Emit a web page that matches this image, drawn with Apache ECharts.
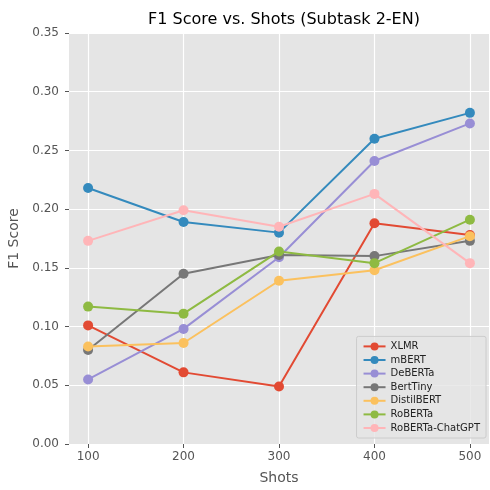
<!DOCTYPE html>
<html>
<head>
<meta charset="utf-8">
<script src="https://cdn.jsdelivr.net/npm/echarts@6/dist/echarts.min.js"></script>
<style>
html, body { margin: 0; padding: 0; background: #fff; }
#chart { width: 490px; height: 490px; }
</style>
</head>
<body>
<div id="chart"></div>
<script>
var shots = [100, 200, 300, 400, 500];
var names = ['XLMR', 'mBERT', 'DeBERTa', 'BertTiny', 'DistilBERT', 'RoBERTa', 'RoBERTa-ChatGPT'];
var xlmr = [0.101, 0.061, 0.049, 0.188, 0.178];
var mbert = [0.218, 0.189, 0.180, 0.260, 0.282];
var deberta = [0.055, 0.098, 0.159, 0.241, 0.273];
var bertTiny = [0.080, 0.145, 0.161, 0.160, 0.173];
var distilBert = [0.083, 0.086, 0.139, 0.148, 0.177];
var roberta = [0.117, 0.111, 0.164, 0.154, 0.191];
var robertaChatGPT = [0.173, 0.199, 0.185, 0.213, 0.154];
var colors = ['#E24A33', '#348ABD', '#988ED5', '#777777', '#FBC15E', '#8EBA42', '#FFB5B8'];

(function () {
	var myChart = echarts.init(document.getElementById('chart'));
	var allValues = [xlmr, mbert, deberta, bertTiny, distilBert, roberta, robertaChatGPT];
	var series = [];
	for (var i = 0; i < names.length; i++) {
		var pts = [];
		for (var j = 0; j < shots.length; j++) {
			pts.push([shots[j], allValues[i][j]]);
		}
		series.push({
			name: names[i],
			type: 'line',
			data: pts,
			symbol: 'circle',
			symbolSize: 10,
			lineStyle: { width: 2 },
			itemStyle: { color: colors[i] },
			z: 2 + i
		});
	}
	var option = {
		animation: false,
		color: colors,
		title: {
			text: 'F1 Score vs. Shots (Subtask 2-EN)',
			left: 279,
			textAlign: 'center',
			top: 7,
			textStyle: { color: '#000', fontSize: 16, fontWeight: 'normal', fontFamily: 'DejaVu Sans' }
		},
		legend: {
			orient: 'vertical',
			right: 4,
			bottom: 52,
			itemWidth: 22,
			itemHeight: 10,
			itemGap: 3.6,
			padding: [5, 6, 5, 6],
			backgroundColor: 'rgba(229,229,229,0.8)',
			borderColor: '#cccccc',
			borderWidth: 1,
			borderRadius: 2,
			textStyle: { fontSize: 10, color: '#222', fontFamily: 'DejaVu Sans' },
			data: names
		},
		grid: {
			left: 69,
			right: 1,
			top: 33,
			bottom: 46,
			outerBoundsMode: 'none',
			containLabel: false,
			show: true,
			backgroundColor: '#E5E5E5',
			borderWidth: 0
		},
		xAxis: {
			type: 'value',
			min: 80,
			max: 520,
			name: 'Shots',
			nameLocation: 'middle',
			nameGap: 27,
			nameTextStyle: { fontSize: 14, color: '#555', fontFamily: 'DejaVu Sans' },
			axisLine: { show: false },
			axisTick: { show: true, length: 4, lineStyle: { color: '#555' }, customValues: shots },
			axisLabel: { color: '#555', fontSize: 12, fontFamily: 'DejaVu Sans', customValues: shots, margin: 7 },
			splitLine: { show: true, lineStyle: { color: '#fff', width: 1.2 } }
		},
		yAxis: {
			type: 'value',
			min: 0,
			max: 0.35,
			interval: 0.05,
			name: 'F1 Score',
			nameLocation: 'middle',
			nameGap: 45,
			nameTextStyle: { fontSize: 14, color: '#555', fontFamily: 'DejaVu Sans' },
			axisLine: { show: false },
			axisTick: { show: true, length: 4, lineStyle: { color: '#555' } },
			axisLabel: {
				color: '#555', fontSize: 12, fontFamily: 'DejaVu Sans', margin: 10,
				formatter: function (v) { return v.toFixed(2); }
			},
			splitLine: { show: true, lineStyle: { color: '#fff', width: 1.2 } }
		},
		series: series
	};
	myChart.setOption(option);
	window.addEventListener('resize', function () {
		myChart.resize();
	});
})();
</script>
</body>
</html>
